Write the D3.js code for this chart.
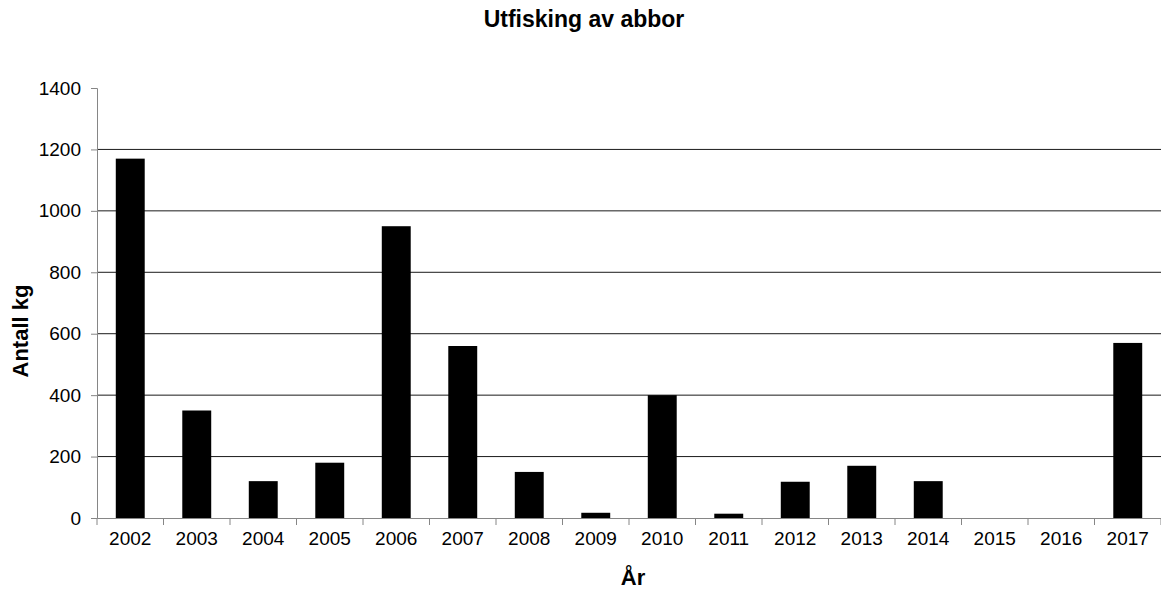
<!DOCTYPE html>
<html>
<head>
    <title>Utfisking av abbor</title>
    <script src="https://d3js.org/d3.v7.min.js"></script>
    <style>
        body { margin: 0; background: #fff; overflow: hidden; }
        text { font-family: "Liberation Sans", Arial, sans-serif; fill: #000; }
    </style>
</head>
<body>
    <div id="chart"></div>

    <script>
        // chart data
        const years = ["2002", "2003", "2004", "2005", "2006", "2007", "2008", "2009",
                       "2010", "2011", "2012", "2013", "2014", "2015", "2016", "2017"];
        const kg = [1170, 350, 120, 180, 950, 560, 150, 17, 400, 14, 118, 170, 120, 0, 0, 570];
        const yTicks = [0, 200, 400, 600, 800, 1000, 1200, 1400];

        const W = 1161, H = 589;
        const margin = { top: 88, right: 0, bottom: 71, left: 97 },
              width = W - margin.left - margin.right,
              height = H - margin.top - margin.bottom;

        const svg = d3.select("#chart")
          .append("svg")
            .attr("width", W)
            .attr("height", H)
            .style("display", "block");

        const g = svg.append("g")
            .attr("transform", `translate(${margin.left},${margin.top})`);

        const x = d3.scaleBand()
          .domain(years)
          .range([0, width])
          .paddingInner(0.565)
          .paddingOuter(0.2825);

        const y = d3.scaleLinear()
          .domain([0, 1400])
          .range([height, 0]);

        // gridlines (none at the top value)
        g.append("g")
          .selectAll("line")
          .data(yTicks.filter(d => d > 0 && d < 1400))
          .enter().append("line")
            .attr("x1", 0)
            .attr("x2", width)
            .attr("y1", d => y(d))
            .attr("y2", d => y(d))
            .attr("stroke", "#1a1a1a")
            .attr("stroke-width", 1);

        // bars
        g.append("g")
          .selectAll("rect")
          .data(years)
          .enter().append("rect")
            .attr("x", d => x(d))
            .attr("width", x.bandwidth())
            .attr("y", (d, i) => y(kg[i]))
            .attr("height", (d, i) => height - y(kg[i]))
            .attr("fill", "#000");

        // y axis
        const yAxis = g.append("g")
          .call(d3.axisLeft(y).tickValues(yTicks).tickFormat(d3.format("d")).tickSize(6).tickPadding(10));
        yAxis.selectAll("path, line").attr("stroke", "#868686");
        yAxis.selectAll("text").style("font-size", "19px");

        // x axis, ticks between categories
        const xAxis = g.append("g")
          .attr("transform", `translate(0,${height})`)
          .call(d3.axisBottom(x).tickSize(0).tickPadding(14));
        xAxis.select("path").attr("stroke", "#868686");
        xAxis.selectAll("text").style("font-size", "19px");
        const step = x.step();
        xAxis.selectAll(".sep")
          .data(d3.range(years.length + 1))
          .enter().append("line")
            .attr("class", "sep")
            .attr("x1", i => i * step)
            .attr("x2", i => i * step)
            .attr("y1", 0)
            .attr("y2", 7)
            .attr("stroke", "#868686");

        // titles
        svg.append("text")
          .attr("x", 584)
          .attr("y", 27)
          .attr("text-anchor", "middle")
          .style("font-size", "23px")
          .style("font-weight", "bold")
          .text("Utfisking av abbor");

        svg.append("text")
          .attr("x", margin.left + width / 2 + 4)
          .attr("y", 585)
          .attr("text-anchor", "middle")
          .style("font-size", "22px")
          .style("font-weight", "bold")
          .text("År");

        svg.append("text")
          .attr("transform", `translate(28,${margin.top + height / 2 + 28}) rotate(-90)`)
          .attr("text-anchor", "middle")
          .style("font-size", "22px")
          .style("font-weight", "bold")
          .text("Antall kg");
    </script>
</body>
</html>
